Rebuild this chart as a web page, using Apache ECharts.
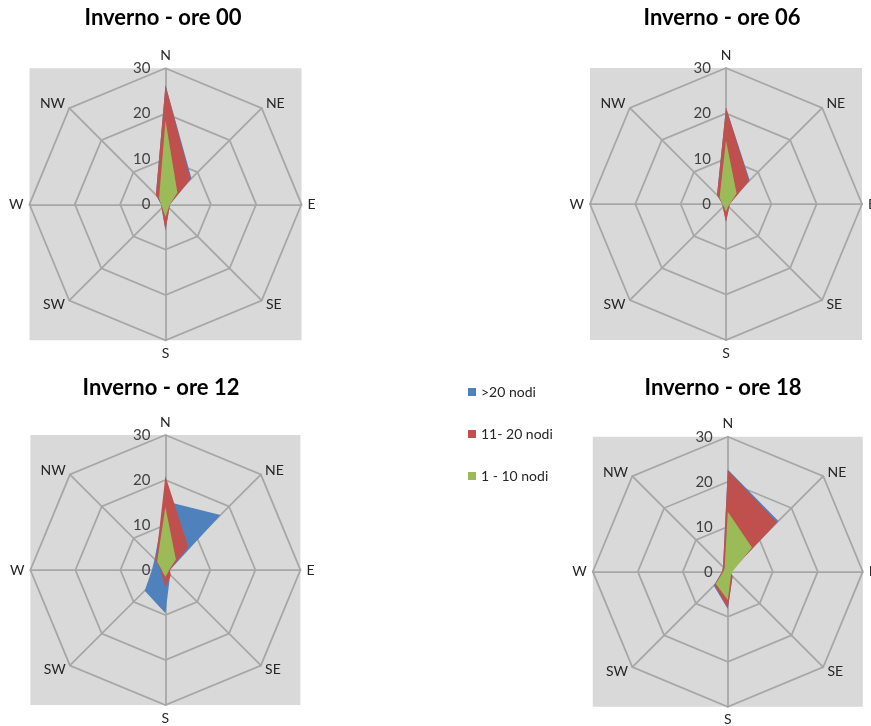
<!DOCTYPE html>
<html>
<head>
<meta charset="utf-8">
<script src="https://cdn.jsdelivr.net/npm/echarts@6/dist/echarts.min.js"></script>
<style>
  html, body { margin: 0; padding: 0; background: #ffffff; }
  #chart { width: 871px; height: 726px; }
</style>
</head>
<body>
<div id="chart"></div>
<script>
// Compass sectors, listed clockwise from north
const directions = ['N', 'NE', 'E', 'SE', 'S', 'SW', 'W', 'NW'];
const panelTitles = ['Inverno - ore 00', 'Inverno - ore 06', 'Inverno - ore 12', 'Inverno - ore 18'];
const seriesNames = ['>20 nodi', '11- 20 nodi', '1 - 10 nodi'];
const tickValues = [0, 10, 20, 30];

// Frequencies (%) per sector, order N, NE, E, SE, S, SW, W, NW
const over20_h00 = [26.3, 8.1, 1.0, 1.2, 5.7, 1.2, 1.0, 3.0];
const mid_h00    = [26.3, 7.8, 1.0, 1.2, 5.7, 1.2, 1.0, 3.0];
const low_h00    = [18.5, 3.7, 1.0, 1.0, 2.8, 1.0, 1.0, 2.0];

const over20_h06 = [21.3, 7.4, 0.8, 1.0, 3.9, 1.0, 0.8, 2.8];
const mid_h06    = [21.3, 7.2, 0.8, 1.0, 3.9, 1.0, 0.8, 2.8];
const low_h06    = [14.0, 3.3, 0.8, 0.7, 1.7, 0.7, 0.8, 2.0];

const over20_h12 = [15.3, 17.3, 1.0, 1.5, 9.6, 6.5, 3.0, 3.4];
const mid_h12    = [20.9, 7.2, 1.0, 1.7, 3.9, 1.2, 1.0, 3.0];
const low_h12    = [14.0, 3.3, 0.8, 0.8, 1.5, 0.8, 0.8, 2.6];

const over20_h18 = [22.7, 15.9, 0.6, 1.5, 8.3, 4.4, 1.3, 1.5];
const mid_h18    = [22.5, 15.5, 0.6, 1.5, 8.1, 4.2, 1.3, 1.5];
const low_h18    = [13.3, 7.6, 1.0, 1.0, 6.3, 3.8, 1.0, 1.0];

const panelData = [
  [over20_h00, mid_h00, low_h00],
  [over20_h06, mid_h06, low_h06],
  [over20_h12, mid_h12, low_h12],
  [over20_h18, mid_h18, low_h18]
];

// Layout of the four panels (centre and radius in px; title anchor)
const panels = [
  { cx: 165.5, cy: 204.3, r: 136, titleX: 158, titleTop: 2 },
  { cx: 726.0, cy: 204.0, r: 136, titleX: 717, titleTop: 2 },
  { cx: 165.4, cy: 570.0, r: 135, titleX: 156, titleTop: 372 },
  { cx: 727.8, cy: 571.7, r: 135, titleX: 718, titleTop: 372 }
];

const seriesColors = ['#4F81BD', '#C0504D', '#9BBB59'];
const gridColor = '#A6A6A6';
const plotBg = '#D9D9D9';
const fontFamily = 'Lato, "Liberation Sans", sans-serif';

// ECharts lays radar indicators out counter-clockwise, so walk the compass that way
const ccwOrder = [0, 7, 6, 5, 4, 3, 2, 1];
const toCcw = arr => ccwOrder.map(i => arr[i]);

const chart = echarts.init(document.getElementById('chart'), null, { renderer: 'canvas' });

const radars = panels.map(p => ({
  center: [p.cx, p.cy],
  radius: p.r,
  startAngle: 90,
  shape: 'polygon',
  splitNumber: tickValues.length - 1,
  indicator: ccwOrder.map((i, k) => {
    const ind = { name: directions[i], min: tickValues[0], max: tickValues[tickValues.length - 1] };
    if (k === 0) {
      ind.axisLabel = {
        show: true, color: '#404040', fontSize: 15, fontFamily: fontFamily,
        margin: 15, align: 'right', verticalAlign: 'middle'
      };
    }
    return ind;
  }),
  axisName: { color: '#262626', fontSize: 14, fontFamily: fontFamily },
  nameGap: 6,
  axisLine: { show: true, lineStyle: { color: gridColor, width: 1.75 } },
  splitLine: { show: true, lineStyle: { color: gridColor, width: 1.75 } },
  splitArea: { show: false },
  axisTick: { show: false },
  axisLabel: { show: false },
  silent: true
}));

const series = [];
panelData.forEach((group, pi) => {
  group.forEach((values, si) => {
    series.push({
      type: 'radar',
      name: seriesNames[si],
      radarIndex: pi,
      symbol: 'none',
      silent: true,
      z: 2 + si,
      color: seriesColors[si],
      lineStyle: { width: 0, color: seriesColors[si] },
      areaStyle: { color: seriesColors[si], opacity: 1 },
      data: [{ name: seriesNames[si], value: toCcw(values) }]
    });
  });
});

const option = {
  animation: false,
  backgroundColor: '#ffffff',
  title: panels.map((p, i) => ({
    text: panelTitles[i],
    left: p.titleX,
    top: p.titleTop,
    textAlign: 'center',
    textStyle: { fontFamily: fontFamily, fontWeight: 'bold', fontSize: 22, color: '#000000' }
  })),
  legend: {
    data: seriesNames,
    orient: 'vertical',
    left: 463,
    top: 380,
    icon: 'rect',
    itemWidth: 8,
    itemHeight: 8,
    itemGap: 28,
    selectedMode: false,
    textStyle: { fontFamily: fontFamily, fontSize: 14, color: '#262626' }
  },
  graphic: panels.map(p => ({
    type: 'rect',
    silent: true,
    z: -10,
    shape: { x: p.cx - p.r, y: p.cy - p.r, width: 2 * p.r, height: 2 * p.r },
    style: { fill: plotBg }
  })),
  radar: radars,
  series: series
};

chart.setOption(option);
</script>
</body>
</html>
